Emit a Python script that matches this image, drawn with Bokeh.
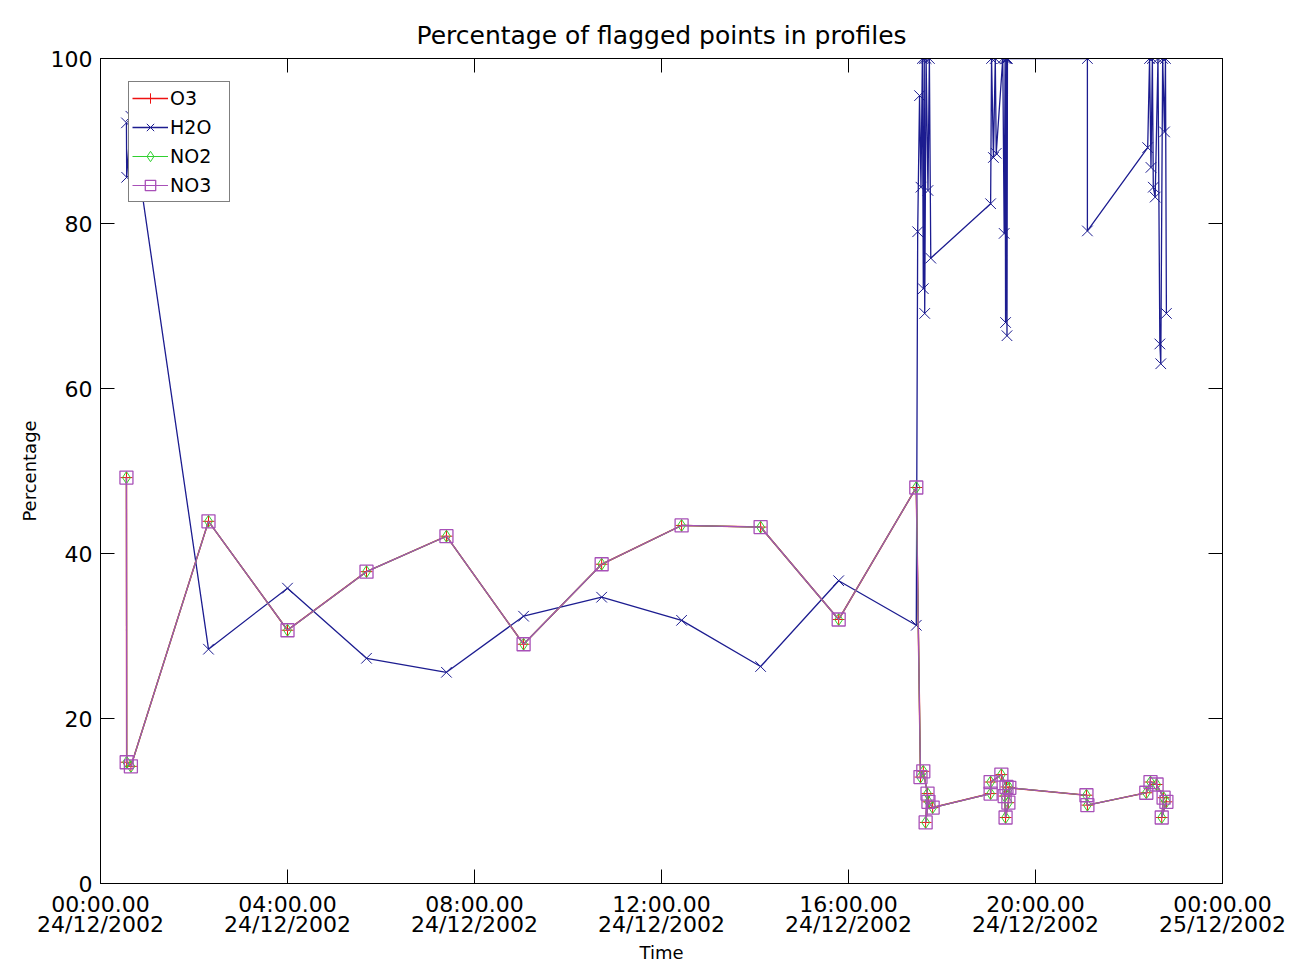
from bokeh.plotting import figure
from bokeh.models import LinearAxis, FixedTicker, Range1d, Legend, LegendItem
from bokeh.embed import file_html
from bokeh.resources import INLINE

# ---------------- data ----------------
x_tick_hours = [0, 4, 8, 12, 16, 20, 24]
x_tick_labels = [
    "00:00.00\n24/12/2002",
    "04:00.00\n24/12/2002",
    "08:00.00\n24/12/2002",
    "12:00.00\n24/12/2002",
    "16:00.00\n24/12/2002",
    "20:00.00\n24/12/2002",
    "00:00.00\n25/12/2002",
]
y_ticks = [0, 20, 40, 60, 80, 100]

# H2O profile times (hours since 00:00 24/12/2002) and flagged percentage
h2o_hours = [0.555, 0.56, 0.65, 2.31, 4.00, 5.69, 7.40, 9.05, 10.72, 12.43, 14.12, 15.79, 17.45,
             17.48, 17.52, 17.55, 17.58, 17.60, 17.62, 17.63, 17.66, 17.70, 17.73, 17.76,
             19.04, 19.06, 19.10, 19.14, 19.16, 19.30, 19.33, 19.35, 19.36, 19.38, 19.39, 19.40,
             21.11, 21.11, 22.40, 22.44, 22.47, 22.50, 22.52, 22.56, 22.62, 22.66, 22.68, 22.72,
             22.76, 22.78, 22.80]
h2o_values = [92.2, 85.6, 93.0, 28.4, 35.8, 27.3, 25.6, 32.4, 34.7, 31.9, 26.3, 36.7, 31.3,
              79.0, 95.5, 84.4, 100.0, 72.1, 100.0, 69.1, 100.0, 84.0, 100.0, 75.8,
              82.4, 100.0, 88.0, 100.0, 88.5, 100.0, 78.8, 100.0, 68.0, 100.0, 66.4, 100.0,
              100.0, 79.1, 89.2, 100.0, 86.8, 100.0, 84.4, 83.2, 100.0, 65.4, 63.0, 100.0,
              91.1, 100.0, 69.1]

# O3 / NO2 / NO3 profile times and flagged percentage (identical flags)
chem_hours = [0.555, 0.56, 0.65, 2.31, 4.00, 5.69, 7.40, 9.05, 10.72, 12.43, 14.12, 15.79, 17.45,
              17.54, 17.60, 17.69, 17.65, 17.71, 17.80,
              19.04, 19.04, 19.27, 19.38, 19.34, 19.36, 19.42, 19.44,
              21.09, 21.11,
              22.37, 22.46, 22.59, 22.74, 22.70, 22.80]
no3_values = [49.2, 14.7, 14.2, 43.9, 30.7, 37.8, 42.1, 29.0, 38.7, 43.4, 43.2, 32.0, 48.0,
              12.9, 13.6, 10.9, 7.4, 9.9, 9.2,
              10.9, 12.3, 13.2, 11.7, 10.6, 8.0, 9.8, 11.6,
              10.7, 9.5,
              11.0, 12.3, 12.0, 10.4, 8.0, 9.9]
o3_values = list(no3_values)
no2_values = list(no3_values)

# ---------------- figure ----------------
FONT = "DejaVu Sans"

p = figure(width=1300, height=967,
           x_range=Range1d(0, 24), y_range=Range1d(0, 100),
           output_backend="svg", toolbar_location=None,
           min_border_left=100, min_border_right=78,
           min_border_top=58, min_border_bottom=84)

p.title.text = "Percentage of flagged points in profiles"
p.title.text_font = FONT
p.title.text_font_size = "25px"
p.title.text_font_style = "normal"
p.title.align = "center"
p.title.text_color = "black"
p.title.standoff = 18

p.xgrid.visible = False
p.ygrid.visible = False
p.outline_line_color = "black"

xt = FixedTicker(ticks=x_tick_hours)
yt = FixedTicker(ticks=y_ticks)

bottom_axis = p.below[0]
left_axis = p.left[0]

bottom_axis.ticker = xt
bottom_axis.major_label_overrides = {h: lab for h, lab in zip(x_tick_hours, x_tick_labels)}
bottom_axis.axis_label = "Time"
left_axis.ticker = yt
left_axis.axis_label = "Percentage"

top_axis = LinearAxis(ticker=xt)
right_axis = LinearAxis(ticker=yt)
p.add_layout(top_axis, "above")
p.add_layout(right_axis, "right")

for ax in [bottom_axis, left_axis, top_axis, right_axis]:
    ax.major_tick_in = 14
    ax.major_tick_out = 0
    ax.minor_tick_in = 0
    ax.minor_tick_out = 0
    ax.axis_line_color = "black"
    ax.major_tick_line_color = "black"
    ax.major_label_text_font = FONT
    ax.major_label_text_font_size = "22px"
    ax.major_label_text_color = "black"
    ax.axis_label_text_font = FONT
    ax.axis_label_text_font_size = "18px"
    ax.axis_label_text_font_style = "normal"
    ax.axis_label_text_color = "black"

for ax in [top_axis, right_axis]:
    ax.major_label_text_font_size = "1px"
    ax.major_label_text_color = None
    ax.major_label_standoff = 0

bottom_axis.major_label_standoff = 8
bottom_axis.major_label_text_line_height = 0.82
bottom_axis.axis_label_standoff = 2
left_axis.major_label_standoff = 8
left_axis.axis_label_standoff = 8

# ---------------- series ----------------
O3_COL = "#ee1111"
H2O_COL = "#1c1c90"
NO2_COL = "#30d030"
NO3_COL = "#a850b8"

o3_l = p.line(chem_hours, o3_values, line_color=O3_COL, line_width=1.5)
o3_m = p.scatter(chem_hours, o3_values, marker="cross", size=12, line_color=O3_COL, fill_alpha=0)

h2o_l = p.line(h2o_hours, h2o_values, line_color=H2O_COL, line_width=1.3)
h2o_m = p.scatter(h2o_hours, h2o_values, marker="x", size=15, line_color=H2O_COL, fill_alpha=0)

no2_l = p.line(chem_hours, no2_values, line_color=NO2_COL, line_width=1.2)
no2_m = p.scatter(chem_hours, no2_values, marker="diamond", size=12, line_color=NO2_COL, fill_alpha=0)

no3_l = p.line(chem_hours, no3_values, line_color=NO3_COL, line_width=1.2)
no3_m = p.scatter(chem_hours, no3_values, marker="square", size=13, line_color=NO3_COL,
                  line_width=1.3, fill_alpha=0)

legend = Legend(items=[
    LegendItem(label="O3", renderers=[o3_l, o3_m]),
    LegendItem(label="H2O", renderers=[h2o_l, h2o_m]),
    LegendItem(label="NO2", renderers=[no2_l, no2_m]),
    LegendItem(label="NO3", renderers=[no3_l, no3_m]),
], location=(28, 681))
legend.border_line_color = "black"
legend.border_line_width = 1
legend.background_fill_alpha = 1
legend.label_text_font = FONT
legend.label_text_font_size = "19px"
legend.label_text_color = "black"
legend.glyph_width = 36
legend.glyph_height = 26
legend.label_height = 26
legend.label_width = 56
legend.spacing = 3
legend.padding = 3
legend.margin = 0
legend.label_standoff = 2
p.add_layout(legend)

open("out.html", "w").write(file_html(p, INLINE))
